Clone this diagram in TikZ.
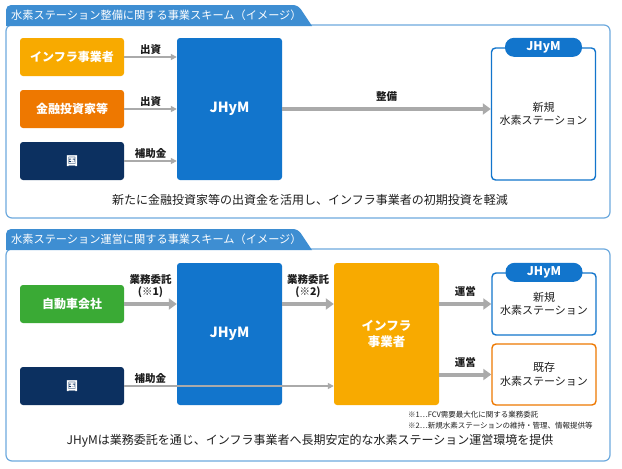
\documentclass[tikz,border=0pt]{standalone}
\usepackage{fontspec}
\setmainfont{Noto Sans CJK JP}
\usepackage{tikz}
\usetikzlibrary{arrows.meta,positioning,calc}
\definecolor{jblue}{RGB}{18,117,204}
\definecolor{tabblue}{RGB}{62,142,210}
\definecolor{frameblue}{RGB}{110,170,222}
\definecolor{infra}{RGB}{248,170,0}
\definecolor{finance}{RGB}{238,120,0}
\definecolor{navy}{RGB}{12,48,96}
\definecolor{carco}{RGB}{58,170,53}
\definecolor{arrowgray}{RGB}{170,170,170}
\definecolor{ink}{RGB}{30,30,30}

\begin{document}
\begin{tikzpicture}[x=1pt, y=-1pt,
  panel/.style={draw=frameblue, line width=1.2pt, rounded corners=6pt},
  tabtxt/.style={text=white, anchor=west, font=\fontsize{11.2}{13}\selectfont, inner sep=0pt},
  box/.style={rounded corners=3pt, text=white, font=\bfseries\fontsize{12}{14}\selectfont, minimum width=104pt, minimum height=38pt, inner sep=0pt, align=center},
  big/.style={box, minimum width=105pt, minimum height=142pt, font=\bfseries\fontsize{14}{17}\selectfont},
  station/.style={draw, fill=white, text=ink, line width=1.4pt, rounded corners=4pt, minimum width=104pt, inner sep=0pt, align=center, font=\fontsize{11}{13.5}\selectfont},
  pill/.style={fill=jblue, rounded corners=9pt, minimum width=77pt, minimum height=19pt, inner sep=0pt, text=white, font=\bfseries\fontsize{12}{14}\selectfont},
  lbl/.style={text=ink, font=\bfseries\fontsize{10.5}{12.5}\selectfont, align=center, inner sep=2pt},
  note/.style={text=ink, anchor=west, font=\fontsize{7.5}{9}\selectfont, inner sep=0pt},
  caption/.style={text=ink, font=\fontsize{12}{14}\selectfont},
  thin/.style={-{Triangle[length=6pt,width=6pt]}, draw=arrowgray, line width=1.8pt},
  thick/.style={-{Triangle[length=8pt,width=11pt]}, draw=arrowgray, line width=4pt},
]
\useasboundingbox[fill=white] (0,0) rectangle (622,469);

\draw[panel] (6,25) rectangle (610,218);
\fill[tabblue] (6,26) [rounded corners=5pt] -- (6,5) -- (298,5) [sharp corners] -- (312,26) -- cycle;
\node[tabtxt] (tab1) at (11,15) {水素ステーション整備に関する事業スキーム（イメージ）};

\node[box, fill=infra] (infra1) at (72,57) {インフラ事業者};
\node[box, fill=finance] (fin) at (72,109) {金融投資家等};
\node[box, fill=navy] (kuni1) at (72,161) {国};
\node[big, fill=jblue] (jhym1) at (229.5,109) {JHyM};
\node[station, draw=jblue, minimum height=132pt] (new1) at (543.5,114) {新規\\水素ステーション};
\node[pill] (pill1) at (new1.north) {JHyM};

\draw[thin] (infra1.east) -- node[lbl, above] {出資} (jhym1.west |- infra1.east);
\draw[thin] (fin.east) -- node[lbl, above] {出資} (jhym1.west |- fin.east);
\draw[thin] (kuni1.east) -- node[lbl, above] {補助金} (jhym1.west |- kuni1.east);
\draw[thick] (jhym1.east) -- node[lbl, above=3pt] {整備} (new1.west |- jhym1.east);

\node[caption] (cap1) at (310,200) {新たに金融投資家等の出資金を活用し、インフラ事業者の初期投資を軽減};

\draw[panel] (6,249) rectangle (610,461);
\fill[tabblue] (6,250) [rounded corners=5pt] -- (6,229) -- (298,229) [sharp corners] -- (312,250) -- cycle;
\node[tabtxt] (tab2) at (11,239) {水素ステーション運営に関する事業スキーム（イメージ）};

\node[box, fill=carco] (car) at (72,304) {自動車会社};
\node[box, fill=navy] (kuni2) at (72,386) {国};
\node[big, fill=jblue] (jhym2) at (229.5,334) {JHyM};
\node[big, fill=infra, font=\bfseries\fontsize{12.5}{16}\selectfont] (infra2) at (386.5,334) {インフラ\\事業者};
\node[station, draw=jblue, minimum height=62pt] (new2) at (544,304) {新規\\水素ステーション};
\node[pill] (pill2) at (new2.north) {JHyM};
\node[station, draw=finance, minimum height=61pt] (old2) at (544,374.5) {既存\\水素ステーション};

\draw[thick] (car.east) -- node[lbl, above=2pt] {業務委託\\(※1)} (jhym2.west |- car.east);
\draw[thick] (jhym2.east |- car.east) -- node[lbl, above=2pt] {業務委託\\(※2)} (infra2.west |- car.east);
\draw[thick] (infra2.east |- new2.west) -- node[lbl, above=3pt] {運営} (new2.west);
\draw[thick] (infra2.east |- old2.west) -- node[lbl, above=3pt] {運営} (old2.west);
\draw[thin] (kuni2.east) -- (infra2.west |- kuni2.east) node[lbl, above, pos=0.125] {補助金};

\node[note] (note1) at (408,415) {※1…FCV需要最大化に関する業務委託};
\node[note] (note2) at (408,426) {※2…新規水素ステーションの維持・管理、情報提供等};
\node[caption] (cap2) at (310,441) {JHyMは業務委託を通じ、インフラ事業者へ長期安定的な水素ステーション運営環境を提供};
\end{tikzpicture}
\end{document}
